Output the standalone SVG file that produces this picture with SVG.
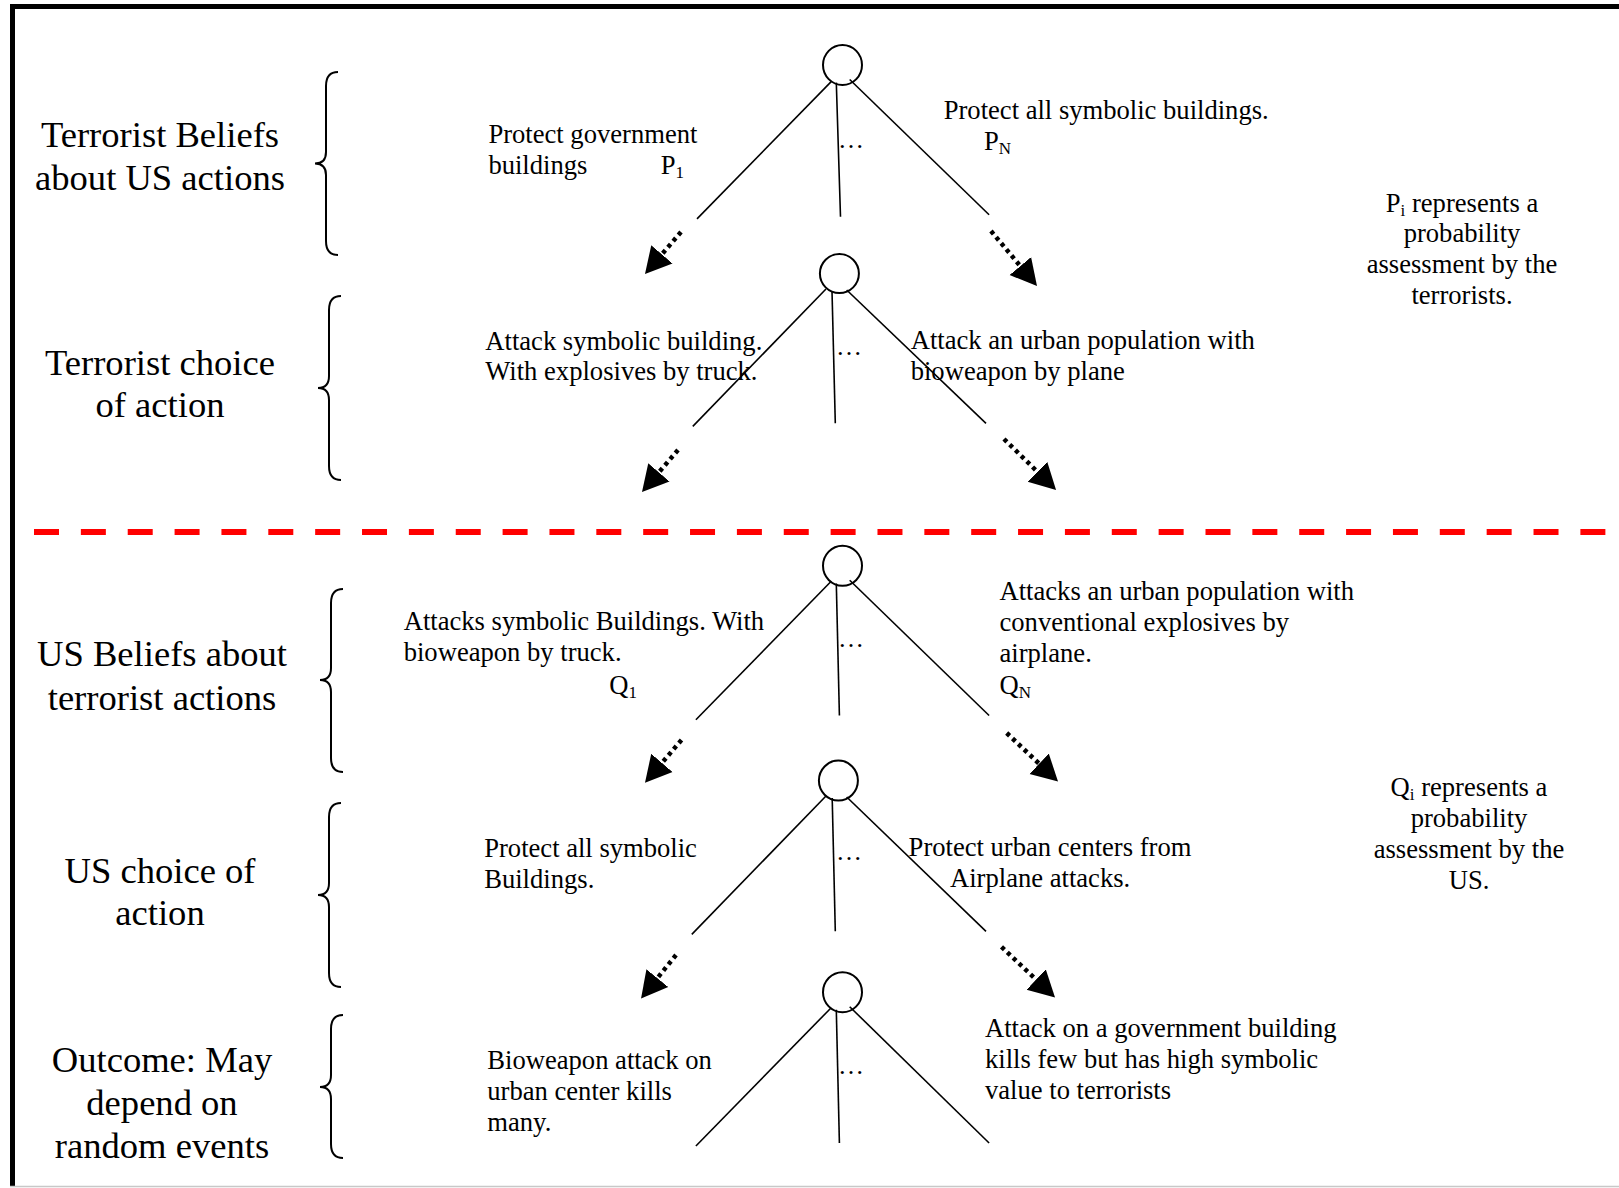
<svg xmlns="http://www.w3.org/2000/svg" width="1619" height="1188" viewBox="0 0 1619 1188">
<defs>
<style>
.t{font-family:"Liberation Serif","Times New Roman",serif;font-size:26.6px;fill:#000}
.lab{font-family:"Liberation Serif","Times New Roman",serif;font-size:36.6px;fill:#000;text-anchor:middle}
.note{font-family:"Liberation Serif","Times New Roman",serif;font-size:26.6px;fill:#000;text-anchor:middle}
.sub{font-size:17px}
.br{fill:none;stroke:#000;stroke-width:2}
.nd{fill:none;stroke:#000;stroke-width:2}
.ln{stroke:#000;stroke-width:1.6;fill:none}
.ar{stroke:#000;stroke-width:4.5;stroke-dasharray:4 4;fill:none;marker-end:url(#ah)}
.dots{font-family:"Liberation Serif","Times New Roman",serif;font-size:26px;fill:#000}
</style>
<marker id="ah" markerUnits="userSpaceOnUse" markerWidth="28" markerHeight="30" viewBox="0 -15 28 30" refX="2" refY="0" orient="auto">
<path d="M0,-14 L26,0 L0,14 z" fill="#000"/>
</marker>
</defs>
<rect x="0" y="0" width="1619" height="1188" fill="#fff"/>
<g id="frame">
<line x1="10" y1="6.5" x2="1619" y2="6.5" stroke="#000" stroke-width="5"/>
<line x1="12.5" y1="4" x2="12.5" y2="1186" stroke="#000" stroke-width="5"/>
<line x1="10" y1="1186.5" x2="1619" y2="1186.5" stroke="#c8c8c8" stroke-width="1.5"/>
</g>
<line id="separator" x1="34" y1="532" x2="1606" y2="532" stroke="#ff0000" stroke-width="6" stroke-dasharray="25 21.86"/>
<g id="label-terrorist-beliefs">
<text class="lab" x="160" y="146.6">Terrorist Beliefs</text>
<text class="lab" x="160" y="190">about US actions</text>
<path class="br" d="M338,72 Q326,72 326,86 L326,152 Q326,163.5 315,163.5 Q326,163.5 326,175 L326,241 Q326,255 338,255"/>
</g>
<g id="label-terrorist-choice">
<text class="lab" x="160" y="374.8">Terrorist choice</text>
<text class="lab" x="160" y="417">of action</text>
<path class="br" d="M341,296 Q329,296 329,310 L329,376 Q329,388 318,388 Q329,388 329,400 L329,466 Q329,480 341,480"/>
</g>
<g id="label-us-beliefs">
<text class="lab" x="162" y="666">US Beliefs about</text>
<text class="lab" x="162" y="710">terrorist actions</text>
<path class="br" d="M343,589 Q331,589 331,603 L331,668 Q331,680 320,680 Q331,680 331,692 L331,758 Q331,772 343,772"/>
</g>
<g id="label-us-choice">
<text class="lab" x="160" y="883">US choice of</text>
<text class="lab" x="160" y="925">action</text>
<path class="br" d="M341,803 Q329,803 329,817 L329,883 Q329,895 318,895 Q329,895 329,907 L329,973 Q329,987 341,987"/>
</g>
<g id="label-outcome">
<text class="lab" x="162" y="1071.7">Outcome: May</text>
<text class="lab" x="162" y="1115">depend on</text>
<text class="lab" x="162" y="1157.5">random events</text>
<path class="br" d="M343,1015 Q331,1015 331,1029 L331,1075 Q331,1087 320,1087 Q331,1087 331,1099 L331,1144 Q331,1158 343,1158"/>
</g>
<g id="connectors">
<line class="ln" x1="831.2" y1="81.6" x2="697" y2="218.9"/>
<line class="ln" x1="836.3" y1="82.6" x2="840.5" y2="216.8"/>
<line class="ln" x1="849.7" y1="79.5" x2="989.1" y2="214.8"/>
<line class="ar" x1="681" y1="232" x2="660.6" y2="255.8"/>
<line class="ar" x1="991" y1="231" x2="1021.6" y2="267.6"/>

<line class="ln" x1="826" y1="289" x2="692.8" y2="426.4"/>
<line class="ln" x1="832" y1="291" x2="835.3" y2="423.3"/>
<line class="ln" x1="846.7" y1="290" x2="986" y2="423.3"/>
<line class="ar" x1="678" y1="450" x2="657.6" y2="473.8"/>
<line class="ar" x1="1004" y1="439" x2="1038.9" y2="473.2"/>

<line class="ln" x1="831.2" y1="581.3" x2="695.9" y2="719.7"/>
<line class="ln" x1="836.3" y1="583.4" x2="839.4" y2="715.5"/>
<line class="ln" x1="849.7" y1="580.3" x2="989.1" y2="715.5"/>
<line class="ar" x1="681.5" y1="740" x2="660.6" y2="764.4"/>
<line class="ar" x1="1006.7" y1="733" x2="1040.6" y2="765.1"/>

<line class="ln" x1="826" y1="796" x2="691.8" y2="934.4"/>
<line class="ln" x1="832.2" y1="798.1" x2="835.3" y2="931.3"/>
<line class="ln" x1="846.7" y1="797" x2="986" y2="931.3"/>
<line class="ar" x1="676" y1="955" x2="656.1" y2="979.7"/>
<line class="ar" x1="1001.5" y1="946.8" x2="1037.6" y2="980.9"/>

<line class="ln" x1="831.2" y1="1007.7" x2="695.9" y2="1146"/>
<line class="ln" x1="836.3" y1="1009.8" x2="839.4" y2="1143"/>
<line class="ln" x1="849.7" y1="1006.7" x2="989.1" y2="1143"/>
</g>
<g id="node-us-action">
<ellipse class="nd" cx="842.5" cy="65" rx="19.5" ry="20"/>
<text class="dots" x="838" y="148">…</text>
<text class="t" x="488.4" y="142.5">Protect government</text>
<text class="t" x="488.4" y="173.5">buildings</text>
<text class="t" x="660.8" y="173.5">P<tspan class="sub" dy="4">1</tspan></text>
<text class="t" x="943.7" y="118.7">Protect all symbolic buildings.</text>
<text class="t" x="984" y="149.7">P<tspan class="sub" dy="4">N</tspan></text>
</g>
<g id="node-terrorist-choice">
<ellipse class="nd" cx="839.4" cy="273.6" rx="19.5" ry="19.5"/>
<text class="dots" x="836" y="355">…</text>
<text class="t" x="485.3" y="350">Attack symbolic building.</text>
<text class="t" x="485.3" y="380">With explosives by truck.</text>
<text class="t" x="910.7" y="349">Attack an urban population with</text>
<text class="t" x="910.7" y="380">bioweapon by plane</text>
</g>
<g id="node-us-beliefs">
<ellipse class="nd" cx="842.5" cy="565.8" rx="19.5" ry="20"/>
<text class="dots" x="838" y="647">…</text>
<text class="t" x="403.7" y="629.8">Attacks symbolic Buildings. With</text>
<text class="t" x="403.7" y="660.8">bioweapon by truck.</text>
<text class="t" x="609.2" y="693.8">Q<tspan class="sub" dy="4">1</tspan></text>
<text class="t" x="999.5" y="599.9">Attacks an urban population with</text>
<text class="t" x="999.5" y="630.8">conventional explosives by</text>
<text class="t" x="999.5" y="661.8">airplane.</text>
<text class="t" x="999.5" y="693.8">Q<tspan class="sub" dy="4">N</tspan></text>
</g>
<g id="node-us-choice">
<ellipse class="nd" cx="838.4" cy="780.6" rx="19.5" ry="20"/>
<text class="dots" x="836" y="860">…</text>
<text class="t" x="484.2" y="857">Protect all symbolic</text>
<text class="t" x="484.2" y="888">Buildings.</text>
<text class="t" x="908.6" y="856">Protect urban centers from</text>
<text class="t" x="950" y="887">Airplane attacks.</text>
</g>
<g id="node-outcome">
<ellipse class="nd" cx="842.5" cy="992.2" rx="19.5" ry="20"/>
<text class="dots" x="838" y="1074">…</text>
<text class="t" x="487.3" y="1068.6">Bioweapon attack on</text>
<text class="t" x="487.3" y="1099.6">urban center kills</text>
<text class="t" x="487.3" y="1130.6">many.</text>
<text class="t" x="985" y="1036.6">Attack on a government building</text>
<text class="t" x="985" y="1067.6">kills few but has high symbolic</text>
<text class="t" x="985" y="1098.7">value to terrorists</text>
</g>
<g id="note-p">
<text class="note" x="1462" y="211.7">P<tspan class="sub" dy="4">i</tspan><tspan dy="-4"> represents a</tspan></text>
<text class="note" x="1462" y="241.6">probability</text>
<text class="note" x="1462" y="272.6">assessment by the</text>
<text class="note" x="1462" y="303.6">terrorists.</text>
</g>
<g id="note-q">
<text class="note" x="1469" y="796">Q<tspan class="sub" dy="4">i</tspan><tspan dy="-4"> represents a</tspan></text>
<text class="note" x="1469" y="827">probability</text>
<text class="note" x="1469" y="858">assessment by the</text>
<text class="note" x="1469" y="889">US.</text>
</g>
</svg>
